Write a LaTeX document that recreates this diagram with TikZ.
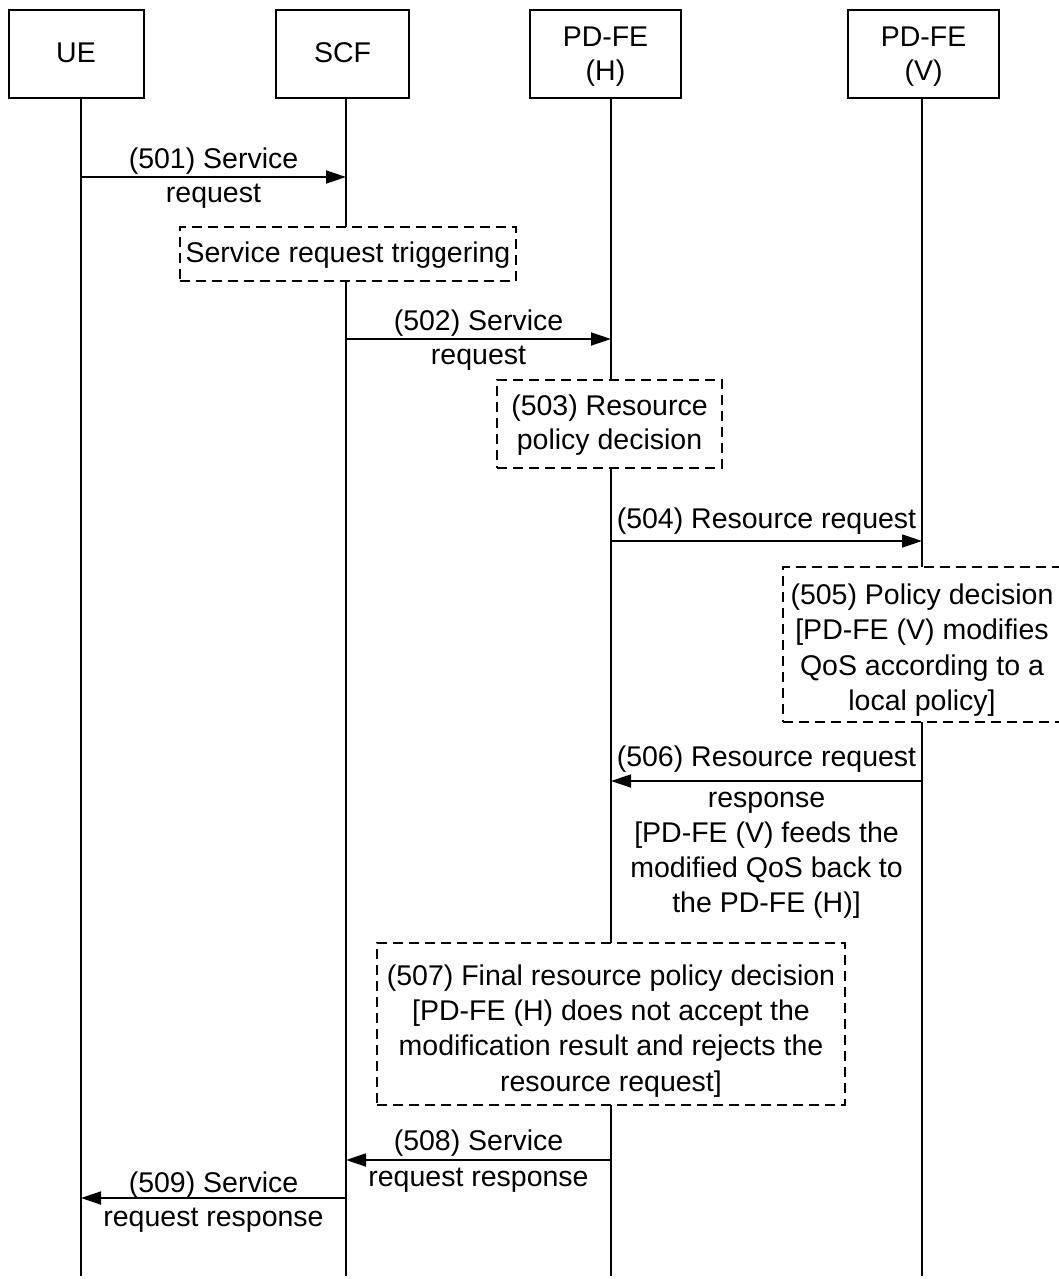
\documentclass[tikz,border=0pt]{standalone}
\usepackage{fontspec}
\setmainfont{Liberation Sans}
\usetikzlibrary{arrows.meta}
\newcommand{\lowtext}[2]{\raisebox{-#1}[\height][\depth]{\begin{tabular}{@{}c@{}}#2\end{tabular}}}
\begin{document}
\begin{tikzpicture}[x=1pt,y=-1pt,
  every node/.style={font=\fontsize{28.5}{34}\selectfont, align=center, inner sep=0pt},
  actor/.style={draw, line width=2pt, minimum height=88pt},
  note/.style={draw, line width=1.6pt, dash pattern=on 10pt off 6pt, fill=white},
  life/.style={line width=2pt},
  msg/.style={line width=1.8pt, -{Triangle[length=20pt,width=13pt]}},
  lbl/.style={fill=none}]
\useasboundingbox (0,0) rectangle (1059,1279);
% actors
\node[actor, minimum width=135pt] (ue) at (76,54) {\lowtext{2pt}{UE}};
\node[actor, minimum width=133pt] (scf) at (342.5,54) {\lowtext{2pt}{SCF}};
\node[actor, minimum width=151pt] (pdh) at (605.5,54) {\lowtext{3pt}{PD-FE\\(H)}};
\node[actor, minimum width=151pt] (pdv) at (923.5,54) {\lowtext{3pt}{PD-FE\\(V)}};
% lifeline ends
\coordinate (ueB) at (81,1276);
\coordinate (scfB) at (346,1276);
\coordinate (pdhB) at (611,1276);
\coordinate (pdvB) at (922,1276);
\draw[life] (ue.south -| ueB) -- (ueB);
\draw[life] (scf.south -| scfB) -- (scfB);
\draw[life] (pdh.south -| pdhB) -- (pdhB);
\draw[life] (pdv.south -| pdvB) -- (pdvB);
% notes
\node[note, minimum width=336pt, minimum height=54pt] (trig) at (348,254) {\lowtext{2pt}{Service request triggering}};
\node[note, minimum width=225pt, minimum height=88pt] (n503) at (609.5,424) {\lowtext{2pt}{(503) Resource\\policy decision}};
\node[note, minimum width=278pt, minimum height=155pt, font=\fontsize{28.5}{35.5}\selectfont] (n505) at (922,644.5) {\lowtext{6pt}{(505) Policy decision\\{}[PD-FE (V) modifies\\QoS according to a\\local policy]}};
\node[note, minimum width=468pt, minimum height=162pt, font=\fontsize{28.5}{35.3}\selectfont] (n507) at (611,1024) {\lowtext{7pt}{(507) Final resource policy decision\\{}[PD-FE (H) does not accept the\\modification result and rejects the\\resource request]}};
% messages
\draw[msg] (ueB |- 0,177) -- node[lbl, yshift=-1pt] {(501) Service\\request} (scfB |- 0,177);
\draw[msg] (scfB |- 0,339) -- node[lbl, yshift=-1pt] {(502) Service\\request} (pdhB |- 0,339);
\draw[msg] (pdhB |- 0,541) -- node[lbl, yshift=20pt] {(504) Resource request} (pdvB |- 0,541);
\draw[msg] (pdvB |- 0,781) -- node[lbl, yshift=22pt] {(506) Resource request}
  node[lbl, yshift=-74pt, font=\fontsize{28.5}{35}\selectfont] {response\\{}[PD-FE (V) feeds the\\modified QoS back to\\the PD-FE (H)]} (pdhB |- 0,781);
\draw[msg] (pdhB |- 0,1160) -- node[lbl, yshift=-1pt, font=\fontsize{28.5}{36}\selectfont] {(508) Service\\request response} (scfB |- 0,1160);
\draw[msg] (scfB |- 0,1198) -- node[lbl, yshift=-4pt] {(509) Service\\request response} (ueB |- 0,1198);
\end{tikzpicture}
\end{document}
